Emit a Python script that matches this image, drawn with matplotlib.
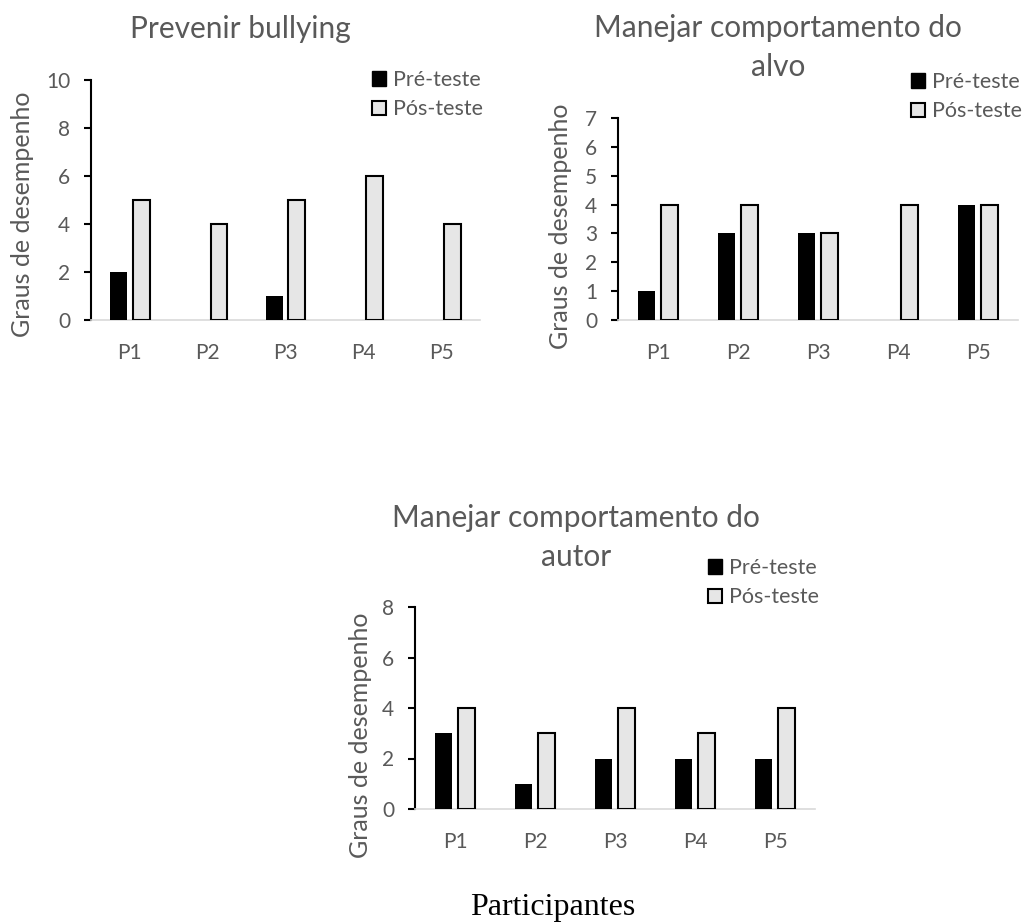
import numpy as np
import matplotlib.pyplot as plt
from matplotlib.patches import Patch

participantes = ['P1', 'P2', 'P3', 'P4', 'P5']

# Prevenir bullying
bullying_pre = [2, 0, 1, 0, 0]
bullying_pos = [5, 4, 5, 6, 4]

# Manejar comportamento do alvo
alvo_pre = [1, 3, 3, 0, 4]
alvo_pos = [4, 4, 3, 4, 4]

# Manejar comportamento do autor
autor_pre = [3, 1, 2, 2, 2]
autor_pos = [4, 3, 4, 3, 4]

plt.rcParams['font.family'] = ['Lato', 'DejaVu Sans']
TXT = '#595959'
W, H = 1022, 922

fig = plt.figure(figsize=(W / 100, H / 100), dpi=100)


def fx(x):
    return x / W


def fy(y):
    return 1 - y / H


def px_axes(left, top, right, bottom):
    return fig.add_axes([fx(left), fy(bottom), (right - left) / W, (bottom - top) / H])


def painel(ax, pre, pos, ymax, step, title_lines, title_x, title_y, ylab_xy, leg_xy):
    x = np.arange(len(participantes))
    w = 0.215
    off = 0.145
    ax.bar(x - off, pre, w, color='black', linewidth=0, zorder=3)
    ax.bar(x + off, pos, w, color='#e6e6e6', edgecolor='black', linewidth=1.5, zorder=3)
    ax.set_xlim(-0.5, len(participantes) - 0.5)
    ax.set_ylim(0, ymax)
    ax.set_yticks(np.arange(0, ymax + 1, step))
    ax.set_xticks(x)
    ax.set_xticklabels(participantes)
    for s in ['top', 'right']:
        ax.spines[s].set_visible(False)
    ax.spines['left'].set_color('black')
    ax.spines['left'].set_linewidth(1.5)
    ax.spines['bottom'].set_color('#d9d9d9')
    ax.spines['bottom'].set_linewidth(1.2)
    ax.tick_params(axis='y', colors='black', labelcolor=TXT, labelsize=15,
                   length=5, width=1.5, direction='out', pad=10)
    ax.tick_params(axis='x', length=0, labelcolor=TXT, labelsize=15, pad=16.5)
    ax.set_facecolor('none')

    fig.text(fx(ylab_xy[0]), fy(ylab_xy[1]), 'Graus de desempenho',
             rotation=90, ha='center', va='center', fontsize=18, color=TXT)

    # título em uma ou duas linhas
    for i, linha in enumerate(title_lines):
        fig.text(fx(title_x), fy(title_y + 39 * i), linha, ha='center',
                 va='baseline', fontsize=21.5, color=TXT)

    handles = [Patch(facecolor='black', edgecolor='black', label='Pré-teste'),
               Patch(facecolor='#e6e6e6', edgecolor='black', linewidth=1.5, label='Pós-teste')]
    leg = ax.legend(handles=handles, loc='upper left',
                    bbox_to_anchor=(fx(leg_xy[0]), fy(leg_xy[1])),
                    bbox_transform=fig.transFigure, frameon=False,
                    fontsize=15.5, handlelength=0.64, handleheight=0.64,
                    handletextpad=0.32, labelspacing=0.44, borderpad=0, borderaxespad=0)
    for t in leg.get_texts():
        t.set_color(TXT)


ax1 = px_axes(91, 80, 480, 320)
painel(ax1, bullying_pre, bullying_pos, 10, 2, ['Prevenir bullying'], 240, 38,
       (23, 214), (372, 70))

ax2 = px_axes(618, 118, 1018, 320)
painel(ax2, alvo_pre, alvo_pos, 7, 1, ['Manejar comportamento do', 'alvo'], 778, 37,
       (560, 226), (911, 72))

ax3 = px_axes(415, 607, 815, 809)
painel(ax3, autor_pre, autor_pos, 8, 2, ['Manejar comportamento do', 'autor'], 576, 527,
       (360, 735), (708, 558))

fig.text(fx(553), fy(915), 'Participantes', ha='center', va='baseline',
         fontsize=23, color='black', family='Liberation Serif')

fig.savefig('out.png', dpi=100, facecolor='white')
